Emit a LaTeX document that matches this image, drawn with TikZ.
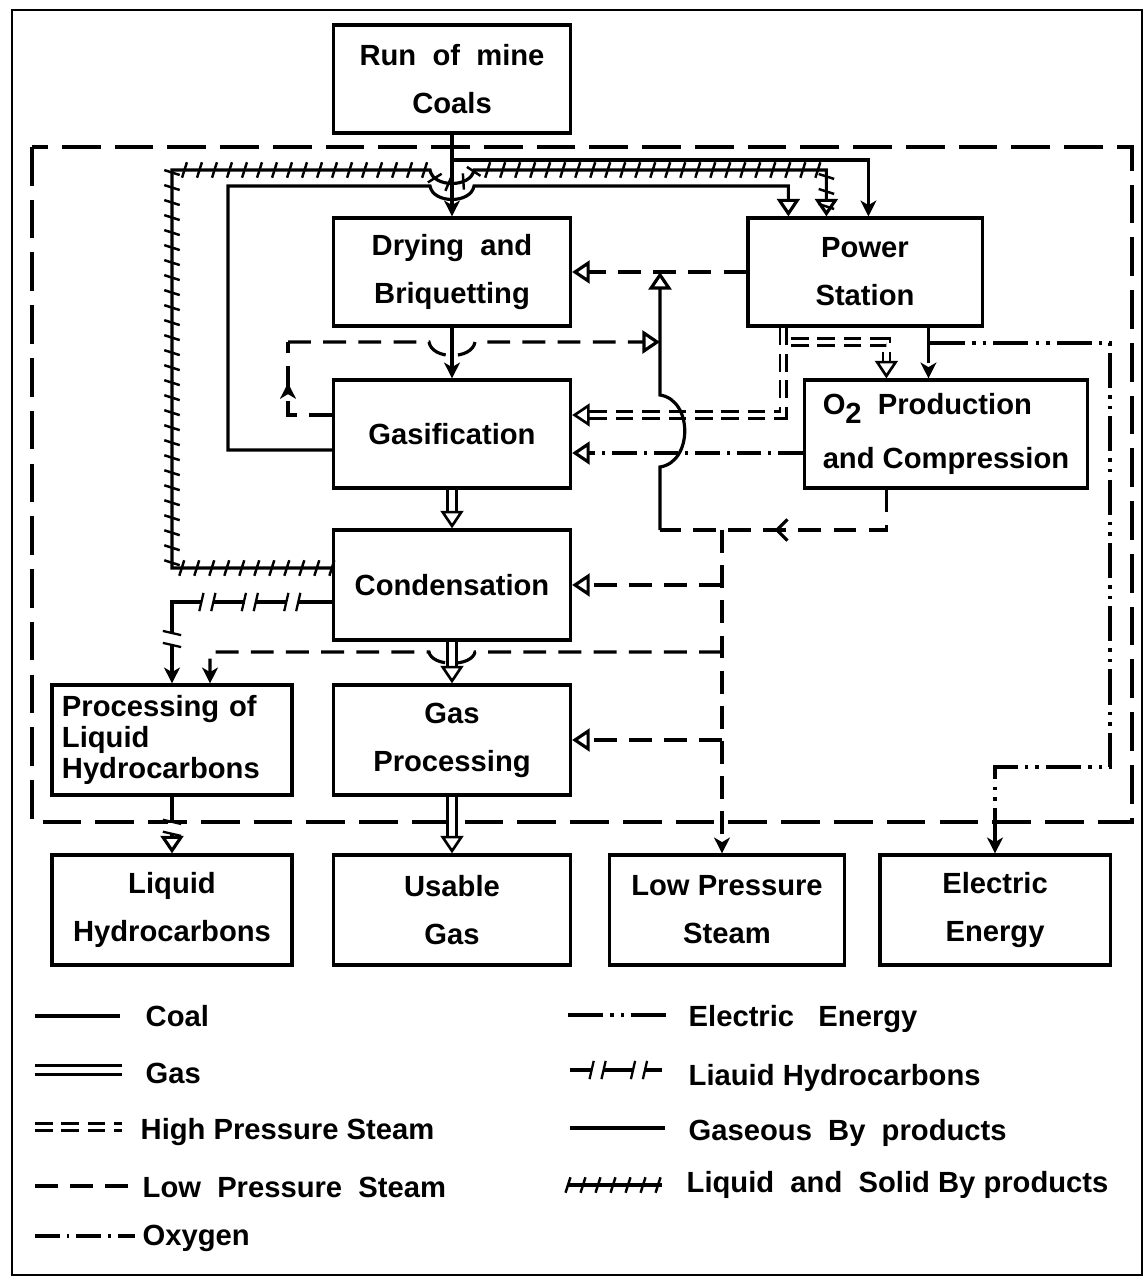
\documentclass[tikz,border=0pt]{standalone}
\usepackage{fontspec}
\setmainfont{Liberation Sans}
\usetikzlibrary{arrows.meta,decorations.markings}

\newcommand\lhcmark{\fill[white] (-1.5pt,-1.1pt) rectangle (1.5pt,1.1pt);
  \draw[-,line width=0.65pt,solid] (-2.3pt,-2.6pt) -- (-1.1pt,2.6pt) (1.1pt,-2.6pt) -- (2.3pt,2.6pt);}

\begin{document}
\begin{tikzpicture}[x=0.01cm,y=-0.01cm,
    every node/.style={font=\fontsize{8.3}{13.7}\selectfont\bfseries},
    box/.style={draw,line width=0.9pt,minimum width=2.37cm,minimum height=1.08cm,align=center,inner sep=1pt},
    legtext/.style={anchor=base west,inner sep=0pt},
    coal/.style={line width=0.9pt},
    gas/.style={double,double distance=1.8pt,line width=0.75pt},
    hps/.style={double,double distance=1.2pt,line width=0.75pt,dash pattern=on 5pt off 2.5pt},
    lps/.style={line width=0.9pt,dash pattern=on 6.5pt off 3.5pt},
    oxy/.style={line width=0.9pt,dash pattern=on 7pt off 2pt on 0.8pt off 2pt},
    elc/.style={line width=0.9pt,dash pattern=on 10pt off 2pt on 1pt off 2pt on 1pt off 2pt},
    bound/.style={line width=1.1pt,dash pattern=on 11pt off 4pt},
    byprod/.style={line width=0.9pt,postaction={decorate,decoration={markings,
      mark=between positions 0 and 1 step 0.15cm with {\draw[-,line width=0.7pt,solid] (-0.7pt,-2.2pt) -- (0.7pt,2.2pt);}}}},
    lhcl/.style={line width=0.9pt,postaction={decorate,decoration={markings,#1}}},
    hollow/.style={-{Triangle[open,length=5pt,width=6.5pt]}},
    stick/.style={-{Stealth[length=4.5pt,width=4.5pt,inset=1.3pt]}},
    midarrow/.style={postaction={decorate,decoration={markings,
      mark=at position #1 with {\arrow[solid]{Stealth[length=4.5pt,width=4.5pt,inset=1.3pt]}}}}},
    backarrow/.style={postaction={decorate,decoration={markings,
      mark=at position #1 with {\arrow[solid,line width=0.9pt]{Straight Barb[length=3pt,width=6pt]}}}}}]
    \useasboundingbox (0,0) rectangle (1145,1279);
    \draw[line width=0.7pt] (12,10) rectangle (1142,1275);
    \draw[bound] (32,147) rectangle (1132,822);

    \node[box] (run) at (452,79) {Run~ of~ mine\\Coals};
    \node[box] (dry) at (452,272) {Drying~ and\\Briquetting};
    \node[box,minimum width=2.34cm] (power) at (865,272) {Power\\Station};
    \node[box] (gasi) at (452,434) {Gasification};
    \node[box,minimum width=2.83cm,align=left,font=\fontsize{8.3}{15.5}\selectfont\bfseries] (otwo) at (946,434)
        {O\raisebox{-0.6ex}{2}~ Production\\and Compression};
    \node[box,minimum height=1.1cm] (cond) at (452,585) {Condensation};
    \node[box,minimum width=2.4cm,minimum height=1.1cm,text width=2.2cm,align=left,
        font=\fontsize{8.3}{8.9}\selectfont\bfseries] (plhc) at (172,740) {Processing of\\Liquid\\Hydrocarbons};
    \node[box,minimum height=1.1cm] (gproc) at (452,740) {Gas\\Processing};
    \node[box,minimum width=2.4cm,minimum height=1.1cm] (lhc) at (172,910) {Liquid\\Hydrocarbons};
    \node[box,minimum height=1.1cm] (ugas) at (452,910) {Usable\\Gas};
    \node[box,minimum width=2.35cm,minimum height=1.1cm] (lpsteam) at (727,910) {Low Pressure\\Steam};
    \node[box,minimum width=2.3cm,minimum height=1.1cm] (elec) at (995,910) {Electric\\Energy};

    % coal
    \coordinate (cpow) at (452,160);
    \draw[coal,stick] (run.south) -- (dry.north);
    \draw[coal,stick] (cpow) -| ([xshift=1.22cm]power.north west);
    \draw[coal,stick] (dry.south) -- (gasi.north);
    % by products
    \draw[byprod,hollow] ([yshift=0.17cm]cond.west) -| (172,170) -- (430,170)
        .. controls (433,188) and (471,188) .. (474,170) -| ([xshift=0.8cm]power.north west);
    \draw[coal,hollow] ([yshift=-0.16cm]gasi.west) -| (228,186) -- (430,186)
        .. controls (433,204) and (471,204) .. (474,186) -| ([xshift=0.42cm]power.north west);
    % gas
    \draw[gas,hollow] (gasi.south) -- (cond.north);
    \draw[gas,hollow] (cond.south) -- (gproc.north);
    \draw[gas,hollow] (gproc.south) -- (ugas.north);
    % liquid hydrocarbons
    \draw[lhcl={mark=at position 0.164 with {\lhcmark},mark=at position 0.34 with {\lhcmark},
        mark=at position 0.516 with {\lhcmark},mark=at position 0.816 with {\lhcmark}},stick]
        ([yshift=-0.17cm]cond.west) -| (plhc.north);
    \draw[lhcl={mark=at position 0.55 with {\lhcmark}},hollow] (plhc.south) -- (lhc.north);
    % high pressure steam
    \draw[hps,hollow] ([xshift=0.37cm]power.south west) |- ([yshift=0.19cm]gasi.east);
    \coordinate (hpb) at (791,342);
    \draw[hps,hollow] (hpb) -| ([xshift=0.835cm]otwo.north west);
    % oxygen
    \draw[oxy,hollow] ([yshift=-0.19cm]otwo.west) -- ([yshift=-0.19cm]gasi.east);
    % electric energy
    \coordinate (pe) at ([xshift=1.82cm]power.south west);
    \draw[elc,stick] (pe) -- (pe |- otwo.north);
    \coordinate (pe2) at (930,343);
    \draw[elc,stick] (pe2) -| (1110,767) -| (elec.north);
    % low pressure steam
    \draw[lps,hollow] (power.west) -- (dry.east);
    \coordinate (lpa) at (288,342);
    \coordinate (lpv) at (660,342);
    \draw[lps,midarrow=0.65] ([yshift=0.19cm]gasi.west) -| (lpa);
    \draw[lps,hollow] (lpa) -- (429,342) .. controls (432,360) and (472,360) .. (475,342) -- (lpv);
    \coordinate (lpc) at (660,530);
    \draw[lps,backarrow=0.57] ([xshift=0.835cm]otwo.south west) |- (lpc);
    \draw[coal,hollow] (lpc) -- (660,467) .. controls (693,462) and (693,400) .. (660,395)
        -- (power.west -| lpc);
    \coordinate (lpT) at (722,530);
    \draw[lps,stick] (lpT) -- (lpT |- lpsteam.north);
    \draw[lps,hollow] (lpT |- cond.east) -- (cond.east);
    \coordinate (lpL) at (722,652);
    \draw[lps,stick] (lpL) -- (475,652) .. controls (472,667) and (432,667) .. (429,652)
        -| ([xshift=0.38cm]plhc.north);
    \draw[lps,hollow] (lpT |- gproc.east) -- (gproc.east);

    % key
    \draw[coal] (35,1016) -- (120,1016);
    \node[legtext] (kcoal) at (145,1026) {Coal};
    \draw[gas] (35,1070) -- (122,1070);
    \node[legtext] (kgas) at (145,1083) {Gas};
    \draw[hps] (35,1127) -- (122,1127);
    \node[legtext] (khps) at (140,1139) {High Pressure Steam};
    \draw[lps] (35,1186) -- (128,1186);
    \node[legtext] (klps) at (142,1197) {Low~ Pressure~ Steam};
    \draw[oxy] (35,1236) -- (135,1236);
    \node[legtext] (koxy) at (142,1245) {Oxygen};
    \draw[elc] (568,1015) -- (668,1015);
    \node[legtext] (kelc) at (688,1026) {Electric~~ Energy};
    \draw[lhcl={mark=at position 0.3 with {\lhcmark},mark=at position 0.75 with {\lhcmark}}] (570,1070) -- (662,1070);
    \node[legtext] (klhc) at (688,1085) {Liauid Hydrocarbons};
    \draw[coal] (570,1128) -- (665,1128);
    \node[legtext] (kgbp) at (688,1140) {Gaseous~ By~ products};
    \draw[byprod] (568,1185) -- (662,1185);
    \node[legtext] (klsbp) at (686,1192) {Liquid~ and~ Solid By products};
\end{tikzpicture}
\end{document}
